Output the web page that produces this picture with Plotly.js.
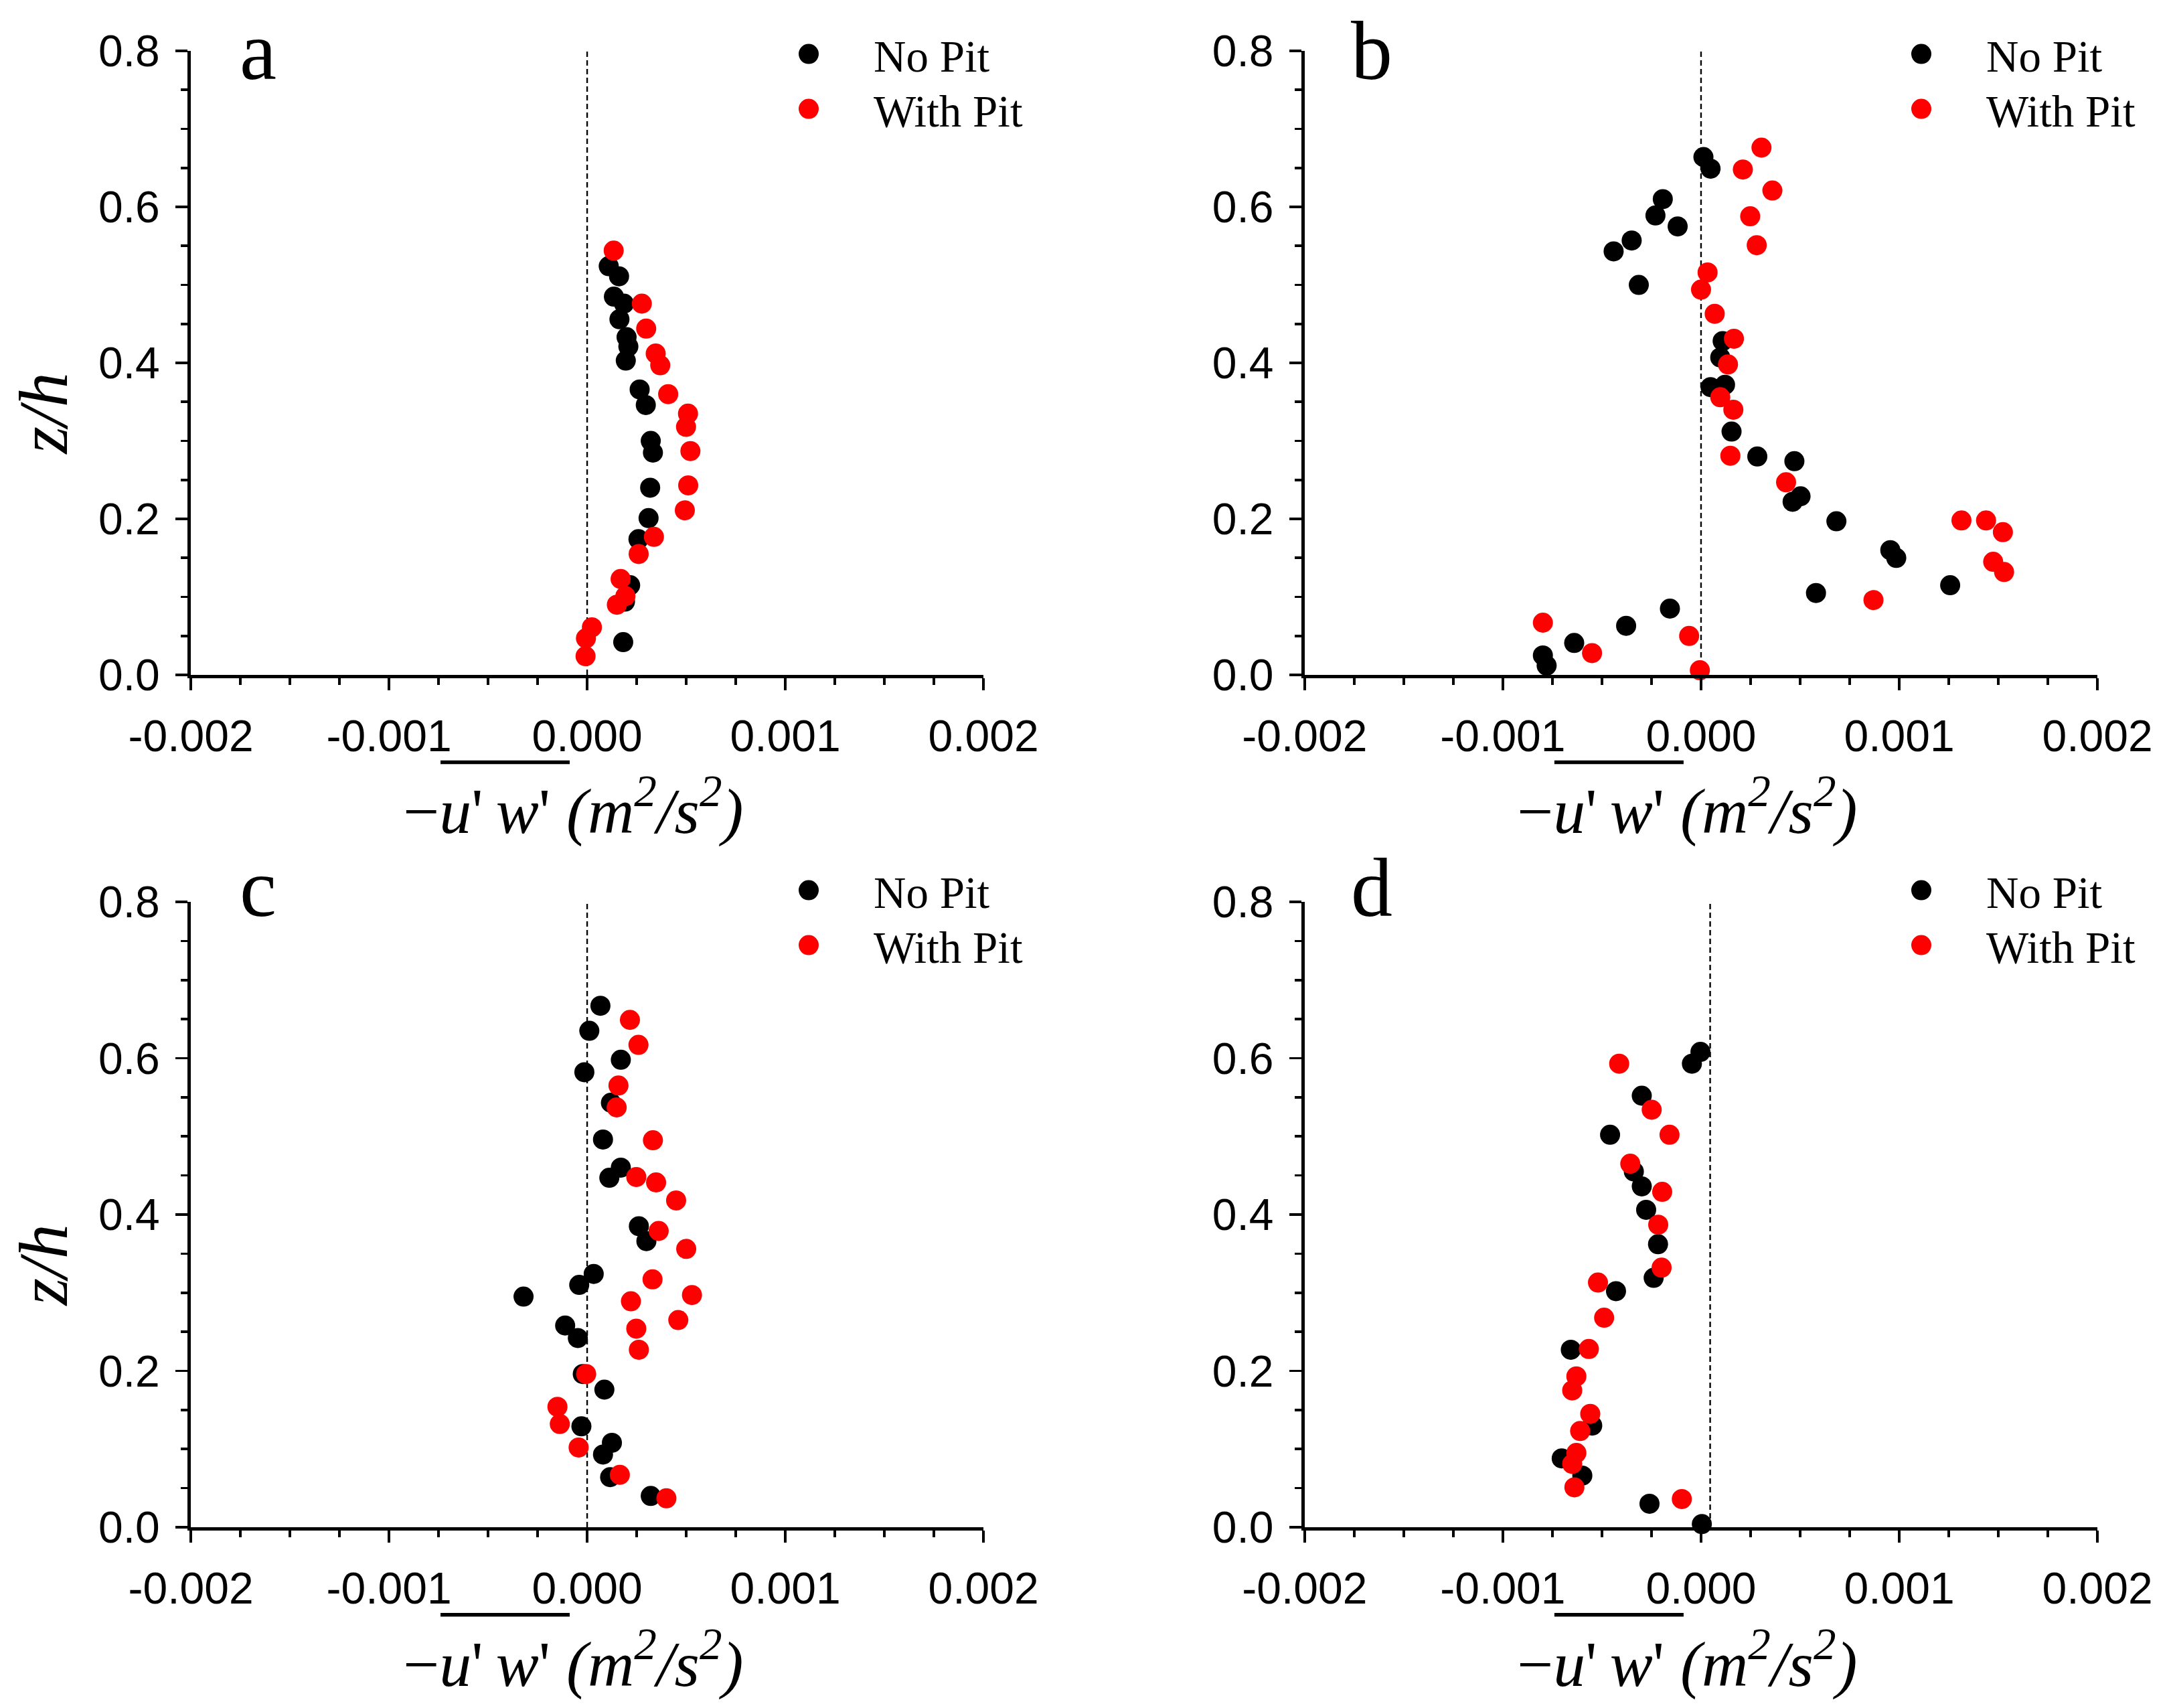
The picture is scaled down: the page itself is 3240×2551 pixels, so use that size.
<!DOCTYPE html>
<html>
<head>
<meta charset="utf-8">
<script src="https://cdn.plot.ly/plotly-3.0.1.min.js"></script>
<style>
html, body { margin: 0; padding: 0; background: #fff; }
#frame { width: 3240px; height: 2551px; overflow: hidden; position: relative; }
#graph { width: 1620px; height: 1276px; transform: scale(2); transform-origin: 0 0; position: absolute; left: 0; top: 0; }
</style>
</head>
<body>
<div id="frame"><div id="graph"></div></div>
<script>
// panel a
var uwNoPitA = [0.000109,0.000161,0.000135,0.000186,0.000163,0.000199,0.000208,0.000195,0.000265,0.000296,0.000321,0.000332,0.000318,0.000310,0.000259,0.000217,0.000191,0.000182];
var zhNoPitA = [0.524,0.511,0.485,0.476,0.456,0.433,0.421,0.403,0.366,0.346,0.300,0.285,0.240,0.201,0.174,0.115,0.094,0.042];
var uwPitA = [0.000134,0.000276,0.000298,0.000346,0.000369,0.000409,0.000509,0.000499,0.000521,0.000510,0.000493,0.000337,0.000260,0.000169,0.000193,0.000150,0.000024,-0.000006,-0.000008];
var zhPitA = [0.544,0.476,0.444,0.412,0.397,0.360,0.335,0.318,0.287,0.243,0.211,0.177,0.155,0.123,0.101,0.090,0.061,0.047,0.024];

// panel b
var uwNoPitB = [0.000012,0.000048,-0.000193,-0.000230,-0.000118,-0.000350,-0.000441,-0.000314,0.000109,0.000097,0.000121,0.000048,0.000154,0.000284,0.000471,0.000502,0.000462,0.000683,0.000955,0.000985,0.001257,0.000580,-0.000157,-0.000378,-0.000640,-0.000798,-0.000779];
var zhNoPitB = [0.664,0.649,0.610,0.589,0.575,0.557,0.543,0.500,0.428,0.407,0.372,0.369,0.312,0.280,0.274,0.229,0.222,0.197,0.160,0.150,0.115,0.105,0.085,0.063,0.041,0.025,0.012];
var uwPitB = [0.000305,0.000211,0.000360,0.000248,0.000281,0.000033,0.000000,0.000069,0.000166,0.000136,0.000097,0.000163,0.000148,0.000429,0.001314,0.001438,0.001523,0.001474,0.001529,0.000870,-0.000798,-0.000550,-0.000060,-0.000006];
var zhPitB = [0.676,0.648,0.621,0.588,0.551,0.516,0.494,0.463,0.431,0.398,0.356,0.340,0.281,0.247,0.198,0.198,0.183,0.145,0.132,0.096,0.067,0.028,0.050,0.006];

// panel c
var uwNoPitC = [0.000067,0.000011,0.000170,-0.000014,0.000120,0.000080,0.000170,0.000112,0.000261,0.000299,0.000033,-0.000040,-0.000321,-0.000111,-0.000047,-0.000022,0.000087,-0.000029,0.000125,0.000080,0.000116,0.000321];
var zhNoPitC = [0.667,0.635,0.598,0.582,0.543,0.496,0.460,0.447,0.385,0.366,0.324,0.310,0.295,0.258,0.242,0.196,0.176,0.129,0.108,0.093,0.064,0.040];
var uwPitC = [0.000216,0.000259,0.000158,0.000149,0.000332,0.000248,0.000348,0.000449,0.000361,0.000500,0.000330,0.000529,0.000221,0.000460,0.000248,0.000261,-0.000005,-0.000150,-0.000138,-0.000043,0.000165,0.000400];
var zhPitC = [0.649,0.617,0.565,0.537,0.495,0.448,0.441,0.418,0.379,0.356,0.317,0.297,0.289,0.265,0.254,0.227,0.196,0.154,0.132,0.102,0.067,0.037];

// panel d
var uwNoPitD = [-0.000003,-0.000046,-0.000299,-0.000459,-0.000339,-0.000299,-0.000277,-0.000217,-0.000239,-0.000429,-0.000657,-0.000549,-0.000703,-0.000599,-0.000260,0.000004];
var zhNoPitD = [0.608,0.593,0.552,0.502,0.455,0.436,0.406,0.362,0.319,0.302,0.227,0.130,0.088,0.066,0.030,0.004];
var uwPitD = [-0.000413,-0.000249,-0.000159,-0.000357,-0.000196,-0.000216,-0.000199,-0.000520,-0.000489,-0.000566,-0.000629,-0.000650,-0.000559,-0.000610,-0.000629,-0.000650,-0.000639,-0.000097];
var zhPitD = [0.593,0.534,0.502,0.465,0.429,0.387,0.332,0.313,0.268,0.228,0.193,0.175,0.145,0.123,0.095,0.081,0.051,0.036];

var seriesNames = ['No Pit', 'With Pit'];
var seriesColors = ['#000000', '#ff0000'];
var panelLetters = ['a', 'b', 'c', 'd'];
var xTickVals = [-0.002, -0.001, 0, 0.001, 0.002];
var xTickText = ['-0.002', '-0.001', '0.000', '0.001', '0.002'];
var yTickVals = [0, 0.2, 0.4, 0.6, 0.8];
var yTickText = ['0.0', '0.2', '0.4', '0.6', '0.8'];

var W = 1620, H = 1276;
var serif = 'Liberation Serif, Times New Roman, serif';
var sans = 'Liberation Sans, Arial, sans-serif';

var panels = [
  {x: [uwNoPitA, uwPitA], y: [zhNoPitA, zhPitA], xd: [0.0880, 0.4534], yd: [0.6050, 0.9702], refX: 0, legX: 604, legY: [40.5, 81.5], letterY: 1.0, yTitle: true},
  {x: [uwNoPitB, uwPitB], y: [zhNoPitB, zhPitB], xd: [0.6015, 0.9670], yd: [0.6050, 0.9702], refX: 0, legX: 1435, legY: [40.5, 81.5], letterY: 1.0, yTitle: false},
  {x: [uwNoPitC, uwPitC], y: [zhNoPitC, zhPitC], xd: [0.0880, 0.4534], yd: [0.1062, 0.4722], refX: 0, legX: 604, legY: [665, 706], letterY: 1.022, yTitle: true},
  {x: [uwNoPitD, uwPitD], y: [zhNoPitD, zhPitD], xd: [0.6015, 0.9670], yd: [0.1062, 0.4722], refX: 0.000046, legX: 1435, legY: [665, 706], letterY: 1.022, yTitle: false}
];

var data = [];
var shapes = [];
var annotations = [];
var layout = {
  width: W, height: H,
  margin: {l: 0, r: 0, t: 0, b: 0},
  paper_bgcolor: '#ffffff',
  plot_bgcolor: 'rgba(0,0,0,0)',
  showlegend: true,
  font: {family: sans, color: '#000'}
};

var itemW = 87;
var xTitle = '\u2212<i>u</i>\'\u2009<i>w</i>\' <i>(m<sup>2</sup>/s<sup>2</sup>)</i>';

panels.forEach(function(p, i) {
  var n = i === 0 ? '' : String(i + 1);
  var xa = 'x' + n, ya = 'y' + n;

  for (var j = 0; j < 2; j++) {
    var k = i * 2 + j;
    var legId = k === 0 ? 'legend' : 'legend' + (k + 1);
    data.push({
      type: 'scatter', mode: 'markers',
      x: p.x[j], y: p.y[j], xaxis: xa, yaxis: ya,
      name: seriesNames[j], legend: legId,
      marker: {color: seriesColors[j], size: 15, line: {width: 0}},
      cliponaxis: false, hoverinfo: 'skip'
    });
    layout[legId] = {
      x: (p.legX - 5 - itemW / 2) / W, xanchor: 'left',
      y: 1 - p.legY[j] / H, yanchor: 'middle',
      bgcolor: 'rgba(0,0,0,0)', borderwidth: 0,
      itemwidth: itemW,
      font: {family: serif, size: 33.5, color: '#000'}
    };
  }

  layout['xaxis' + n] = {
    domain: p.xd, anchor: ya, range: [-0.002, 0.002],
    tickmode: 'array', tickvals: xTickVals, ticktext: xTickText,
    ticks: 'outside', ticklen: 9, tickwidth: 1.8, tickcolor: '#000',
    ticklabelstandoff: 6,
    minor: {tickmode: 'linear', tick0: 0, dtick: 0.00025, ticks: 'outside', ticklen: 5, tickwidth: 1.8, tickcolor: '#000', showgrid: false},
    showline: true, linewidth: 2.6, linecolor: '#000', mirror: false,
    showgrid: false, zeroline: false, fixedrange: true,
    tickfont: {family: sans, size: 33, color: '#000'}
  };
  layout['yaxis' + n] = {
    domain: p.yd, anchor: xa, range: [0, 0.8],
    tickmode: 'array', tickvals: yTickVals, ticktext: yTickText,
    ticks: 'outside', ticklen: 9, tickwidth: 1.8, tickcolor: '#000',
    ticklabelstandoff: 5,
    minor: {tickmode: 'linear', tick0: 0, dtick: 0.05, ticks: 'outside', ticklen: 5, tickwidth: 1.8, tickcolor: '#000', showgrid: false},
    showline: true, linewidth: 2.6, linecolor: '#000', mirror: false,
    showgrid: false, zeroline: false, fixedrange: true,
    tickfont: {family: sans, size: 33, color: '#000'}
  };

  // dashed reference line
  shapes.push({
    type: 'line', xref: xa, yref: ya + ' domain',
    x0: p.refX, x1: p.refX, y0: 0, y1: 1,
    line: {color: '#000', width: 1.2, dash: '4px,2.5px'}, layer: 'below'
  });
  // overline of u'w'
  shapes.push({
    type: 'line', xref: xa + ' domain', yref: ya + ' domain',
    x0: 0.315, x1: 0.478, y0: -0.14, y1: -0.14,
    line: {color: '#000', width: 2.7}
  });

  annotations.push({
    xref: xa + ' domain', yref: ya + ' domain', x: 0.085, y: p.letterY,
    xanchor: 'center', yanchor: 'middle', showarrow: false,
    text: panelLetters[i], font: {family: serif, size: 62, color: '#000'}
  });
  annotations.push({
    xref: xa + ' domain', yref: ya + ' domain', x: 0.482, y: -0.212,
    xanchor: 'center', yanchor: 'middle', showarrow: false,
    text: xTitle,
    font: {family: serif, size: 48, color: '#000'}
  });
  if (p.yTitle) {
    annotations.push({
      xref: xa + ' domain', yref: ya + ' domain', x: -0.186, y: 0.42,
      xanchor: 'center', yanchor: 'middle', showarrow: false, textangle: -90,
      text: '<i>z/h</i>', font: {family: serif, size: 52, color: '#000'}
    });
  }
});

layout.shapes = shapes;
layout.annotations = annotations;

Plotly.newPlot('graph', data, layout, {displayModeBar: false, staticPlot: true});
</script>
</body>
</html>
